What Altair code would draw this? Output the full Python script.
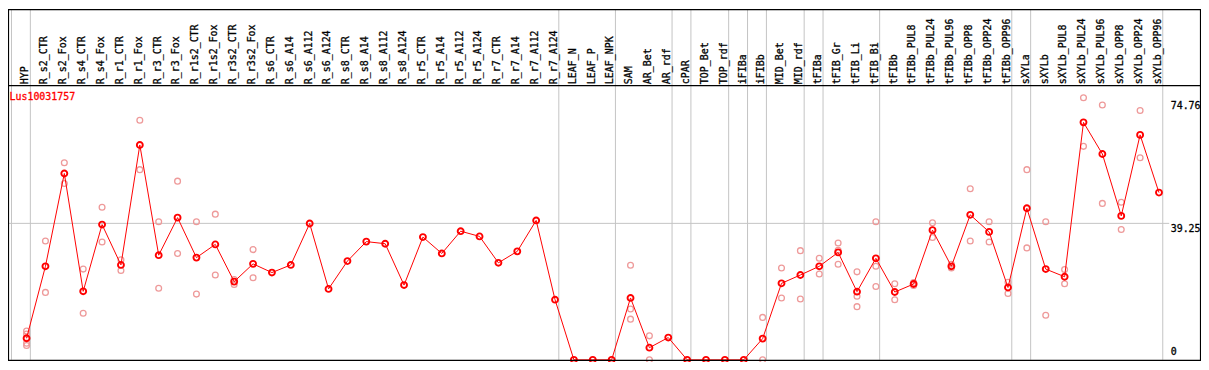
import altair as alt
import pandas as pd

# ---- data ----
groups = [
    ["HYP"],
    ["R_s2_CTR", "R_s2_Fox", "R_s4_CTR", "R_s4_Fox", "R_r1_CTR", "R_r1_Fox",
     "R_r3_CTR", "R_r3_Fox", "R_r1s2_CTR", "R_r1s2_Fox", "R_r3s2_CTR", "R_r3s2_Fox",
     "R_s6_CTR", "R_s6_A14", "R_s6_A112", "R_s6_A124", "R_s8_CTR", "R_s8_A14",
     "R_s8_A112", "R_s8_A124", "R_r5_CTR", "R_r5_A14", "R_r5_A112", "R_r5_A124",
     "R_r7_CTR", "R_r7_A14", "R_r7_A112", "R_r7_A124"],
    ["LEAF_N", "LEAF_P", "LEAF_NPK"],
    ["SAM", "AR_Bet", "AR_rdf"],
    ["cPAR"],
    ["TOP_Bet", "TOP_rdf"],
    ["iFIBa"],
    ["iFIBb"],
    ["MID_Bet", "MID_rdf"],
    ["tFIBa"],
    ["tFIB_Gr", "tFIB_Li", "tFIB_Bi"],
    ["tFIBb", "tFIBb_PUL8", "tFIBb_PUL24", "tFIBb_PUL96", "tFIBb_OPP8",
     "tFIBb_OPP24", "tFIBb_OPP96"],
    ["sXYLa"],
    ["sXYLb", "sXYLb_PUL8", "sXYLb_PUL24", "sXYLb_PUL96", "sXYLb_OPP8",
     "sXYLb_OPP24", "sXYLb_OPP96"],
]

means = [
    6.2,
    26.9, 53.6, 19.7, 38.9, 27.3, 61.8, 30.1, 40.9, 29.4, 33.2, 22.5, 27.6,
    25.1, 27.3, 39.2, 20.4, 28.4, 34.0, 33.4, 21.5, 35.3, 30.6, 37.0, 35.5,
    27.9, 31.2, 40.1, 17.3,
    0.0, 0.0, 0.0,
    17.8, 3.5, 6.4,
    0.0,
    0.0, 0.0,
    0.0,
    6.1,
    22.0, 24.4,
    26.9,
    30.9, 19.6, 29.2,
    19.5, 21.8, 37.3, 26.9, 41.7, 36.8, 20.8,
    43.6,
    26.1, 23.9, 68.3, 59.2, 41.4, 64.7, 48.1,
]

replicates = [
    [8.3, 7.4, 4.8, 4.1],
    [34.2, 19.4], [56.7, 50.7], [26.1, 13.4], [43.9, 33.9], [28.8, 25.7],
    [68.9, 54.7], [39.7, 20.6], [51.4, 30.6], [39.7, 18.9], [41.9, 24.4],
    [23.1, 21.7], [31.7, 23.6],
    [], [], [], [], [], [], [], [], [], [], [], [], [], [], [], [],
    [], [], [],
    [27.2, 14.6, 11.7], [6.9, 0.0], [],
    [],
    [], [],
    [],
    [12.2, 0.0],
    [26.4, 17.8], [31.4, 17.5],
    [29.2, 24.7],
    [33.6, 31.5, 27.5], [25.3, 18.3, 15.3], [39.7, 26.9, 21.1],
    [21.9, 17.3], [22.2, 21.4], [39.4, 35.2], [27.5, 26.4], [49.2, 34.2],
    [39.7, 33.9], [22.3, 19.1],
    [54.7, 32.2],
    [39.7, 12.8], [26.0, 21.9], [75.4, 61.4], [73.3, 45.0], [45.3, 37.5],
    [71.7, 58.1], [],
]

gene = "Lus10031757"
y_ticks = [74.76, 39.25]
y_zero = [0]
mid_line = [39.25]

# ---- tables ----
categories = [c for g in groups for c in g]
df = pd.DataFrame({"cat": categories, "idx": list(range(len(categories))), "mean": means})
rep_rows = [{"idx": i, "v": v} for i, reps in enumerate(replicates) for v in reps]
df_rep = pd.DataFrame(rep_rows)

ends = [-1]
pos = -1
for g in groups:
    pos += len(g)
    ends.append(pos)
df_sep = pd.DataFrame({"s": [e + 0.2 for e in ends]})

# ---- geometry ----
W, H = 1201, 354
xs = alt.Scale(domain=[-0.9842, 62.2263], nice=False, zero=False)
ys = alt.Scale(domain=[-0.2857, 100.857], nice=False, zero=False)
FONT = "DejaVu Sans Mono"
RED = "#ff0000"
PINK = "#ee9a9a"
GRAY = "#c4c4c4"
one = pd.DataFrame({"a": [0]})

sep = alt.Chart(df_sep).mark_rule(color=GRAY, strokeWidth=1).encode(
    x=alt.X("s:Q", scale=xs, axis=None), y=alt.value(0), y2=alt.value(353)
)
grid = alt.Chart(pd.DataFrame({"v": mid_line})).mark_rule(color=GRAY, strokeWidth=1).encode(
    y=alt.Y("v:Q", scale=ys, axis=None), x=alt.value(0), x2=alt.value(1169)
)
hline = alt.Chart(one).mark_rule(color="black", strokeWidth=1.2).encode(
    y=alt.value(77), x=alt.value(0), x2=alt.value(1201)
)
frame = alt.Chart(one).mark_rect(fill="transparent", stroke="black", strokeWidth=1.2).encode(
    x=alt.value(0.5), x2=alt.value(1200.5), y=alt.value(0.5), y2=alt.value(353.5)
)
reps = alt.Chart(df_rep).mark_point(shape="circle", filled=False, color=PINK,
                                     size=34, strokeWidth=1.3, opacity=1).encode(
    x=alt.X("idx:Q", scale=xs, axis=None), y=alt.Y("v:Q", scale=ys, axis=None)
)
line = alt.Chart(df).mark_line(color=RED, strokeWidth=1).encode(
    x=alt.X("idx:Q", scale=xs, axis=None), y=alt.Y("mean:Q", scale=ys, axis=None)
)
pts = alt.Chart(df).mark_point(shape="circle", filled=False, color=RED,
                               size=36, strokeWidth=1.9, opacity=1).encode(
    x=alt.X("idx:Q", scale=xs, axis=None), y=alt.Y("mean:Q", scale=ys, axis=None)
)
labels = alt.Chart(df).transform_calculate(xl="datum.idx - 0.06").mark_text(
    angle=270, align="left", baseline="middle", font=FONT, fontSize=10, color="black",
    stroke="black", strokeWidth=0.3
).encode(
    x=alt.X("xl:Q", scale=xs, axis=None), y=alt.value(75.5), text="cat:N"
)
gene_lbl = alt.Chart(pd.DataFrame({"t": [gene]})).mark_text(
    align="left", baseline="middle", font=FONT, fontSize=10, color=RED,
    stroke=RED, strokeWidth=0.3
).encode(x=alt.value(1.5), y=alt.value(88.7), text="t:N")
ytick = alt.Chart(pd.DataFrame({"v": y_ticks, "t": [f"{v:.2f}" for v in y_ticks]})).mark_text(
    align="left", baseline="top", font=FONT, fontSize=10, color="black", dy=1,
    stroke="black", strokeWidth=0.3
).encode(x=alt.value(1170.5), y=alt.Y("v:Q", scale=ys, axis=None), text="t:N")
yzero = alt.Chart(pd.DataFrame({"v": y_zero, "t": [str(v) for v in y_zero]})).mark_text(
    align="left", baseline="bottom", font=FONT, fontSize=10, color="black", dy=-3,
    stroke="black", strokeWidth=0.3
).encode(x=alt.value(1170.5), y=alt.Y("v:Q", scale=ys, axis=None), text="t:N")

chart = alt.layer(
    sep, grid, hline, reps, line, pts, labels, gene_lbl, ytick, yzero, frame
).properties(
    width=W, height=H, padding=0,
    autosize=alt.AutoSizeParams(type="none"),
    background="white",
).configure_view(strokeWidth=0)

chart.save("out.html", embed_options={"renderer": "svg", "actions": False})
